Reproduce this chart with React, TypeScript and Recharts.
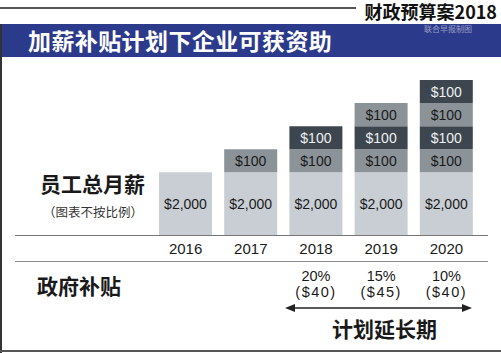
import { Bar, BarChart, LabelList, XAxis, YAxis } from "recharts"

const years = ["2016", "2017", "2018", "2019", "2020"]
const baseSalary = [2000, 2000, 2000, 2000, 2000]
const raise1 = [0, 100, 100, 100, 100]
const raise2 = [0, 0, 100, 100, 100]
const raise3 = [0, 0, 0, 100, 100]
const raise4 = [0, 0, 0, 0, 100]
const subsidyRate = ["", "", "20%", "15%", "10%"]
const subsidyAmount = ["", "", "($40)", "($45)", "($40)"]

const data = years.map((year, i) => ({
  year,
  base: baseSalary[i],
  r1: raise1[i],
  r2: raise2[i],
  r3: raise3[i],
  r4: raise4[i],
  rate: subsidyRate[i],
  amount: subsidyAmount[i],
}))

// the chart is "not to scale": each segment is drawn by the cube root of its value
const shrink = (v: number) => Math.cbrt(v)

const CJK = '"Noto Sans CJK SC", "Noto Sans", sans-serif'
const LATIN = '"Liberation Sans", Arial, sans-serif'

const LIGHT = "#c9ced5"
const MID = "#8b9399"
const DARK = "#3d464e"

function segLabel(fill: string) {
  return (props: any) => {
    const { x, y, width, height, value } = props
    if (!value) return null
    return (
      <text
        x={x + width / 2}
        y={y + height / 2}
        textAnchor="middle"
        dominantBaseline="central"
        fill={fill}
        fontSize={14}
        fontFamily={LATIN}
      >
        ${Number(value).toLocaleString("en-US")}
      </text>
    )
  }
}

function YearTick(props: any) {
  const { x, y, index } = props
  const row = data[index]
  return (
    <g fontFamily={LATIN} textAnchor="middle" fill="#1a1a1a">
      <text x={x} y={y + 13} dominantBaseline="central" fontSize={15}>
        {row.year}
      </text>
      <text x={x} y={y + 41} dominantBaseline="central" fontSize={14.5}>
        {row.rate}
      </text>
      <text x={x} y={y + 57} dominantBaseline="central" fontSize={14.5} letterSpacing={1.5}>
        {row.amount}
      </text>
    </g>
  )
}

const abs = (left: number, top: number, extra: any = {}) => ({
  position: "absolute" as const,
  left,
  top,
  ...extra,
})

export default function App() {
  return (
    <div style={{ position: "absolute", left: 0, top: 0, width: 501, height: 353, background: "#fff", overflow: "hidden" }}>
      {/* header */}
      <div style={abs(0, 7, { width: 356, height: 1.5, background: "#555" })} />
      <svg width={150} height={24} style={abs(351, 0)}>
        <text
          x={146}
          y={11}
          textAnchor="end"
          dominantBaseline="central"
          fontFamily={CJK}
          fontWeight={700}
          fontSize={18}
          fill="#111"
        >
          财政预算案2018
        </text>
      </svg>
      <div style={abs(0, 24, { width: 501, height: 33, background: "#2c3a8c" })} />
      <div style={abs(28, 22, { fontFamily: CJK, fontWeight: 700, fontSize: 23, color: "#fff", whiteSpace: "nowrap", lineHeight: "36px", letterSpacing: 0.4 })}>
        加薪补贴计划下企业可获资助
      </div>
      <div style={abs(424, 24, { fontFamily: CJK, fontSize: 8, color: "rgba(255,255,255,0.5)", whiteSpace: "nowrap", lineHeight: "10px" })}>
        联合早报制图
      </div>
      {/* frame */}
      <div style={abs(0, 24, { width: 2, height: 329, background: "#333" })} />
      <div style={abs(0, 350, { width: 501, height: 2, background: "#555" })} />

      {/* row labels */}
      <div style={abs(40, 168, { fontFamily: CJK, fontWeight: 700, fontSize: 21, color: "#1a1a1a", whiteSpace: "nowrap", lineHeight: "30px" })}>
        员工总月薪
      </div>
      <div style={abs(43, 203, { fontFamily: CJK, fontSize: 12.5, color: "#333", whiteSpace: "nowrap", lineHeight: "18px" })}>
        （图表不按比例）
      </div>
      <div style={abs(37, 270, { fontFamily: CJK, fontWeight: 700, fontSize: 21, color: "#1a1a1a", whiteSpace: "nowrap", lineHeight: "30px" })}>
        政府补贴
      </div>
      <div style={abs(332, 313, { fontFamily: CJK, fontWeight: 700, fontSize: 21, color: "#1a1a1a", whiteSpace: "nowrap", lineHeight: "30px" })}>
        计划延长期
      </div>

      {/* separators and arrow */}
      <svg width={501} height={353} style={abs(0, 0, { pointerEvents: "none" })}>
        <line x1={15} x2={488} y1={235.5} y2={235.5} stroke="#777" strokeWidth={1} />
        <line x1={15} x2={488} y1={261.5} y2={261.5} stroke="#888" strokeWidth={1} />
        <line x1={290} x2={467} y1={308} y2={308} stroke="#222" strokeWidth={1.5} />
        <polygon points="285,308 295,304 295,312" fill="#222" />
        <polygon points="472,308 462,304 462,312" fill="#222" />
      </svg>

      <div style={abs(0, 0)}>
        <BarChart width={501} height={353} data={data} margin={{ top: 80, right: 22, bottom: 88, left: 153 }}>
          <XAxis
            dataKey="year"
            height={30}
            axisLine={false}
            tickLine={false}
            tickSize={0}
            tickMargin={0}
            interval={0}
            tick={<YearTick />}
          />
          <YAxis hide domain={[0, "dataMax"]} />
          <Bar dataKey={(d: any) => shrink(d.base)} stackId="s" fill={LIGHT} barSize={53} isAnimationActive={false}>
            <LabelList dataKey="base" content={segLabel("#1a1a1a")} />
          </Bar>
          <Bar dataKey={(d: any) => shrink(d.r1)} stackId="s" fill={MID} barSize={53} isAnimationActive={false}>
            <LabelList dataKey="r1" content={segLabel("#1a1a1a")} />
          </Bar>
          <Bar dataKey={(d: any) => shrink(d.r2)} stackId="s" fill={DARK} barSize={53} isAnimationActive={false}>
            <LabelList dataKey="r2" content={segLabel("#eef0f2")} />
          </Bar>
          <Bar dataKey={(d: any) => shrink(d.r3)} stackId="s" fill={MID} barSize={53} isAnimationActive={false}>
            <LabelList dataKey="r3" content={segLabel("#1a1a1a")} />
          </Bar>
          <Bar dataKey={(d: any) => shrink(d.r4)} stackId="s" fill={DARK} barSize={53} isAnimationActive={false}>
            <LabelList dataKey="r4" content={segLabel("#eef0f2")} />
          </Bar>
        </BarChart>
      </div>
    </div>
  )
}
